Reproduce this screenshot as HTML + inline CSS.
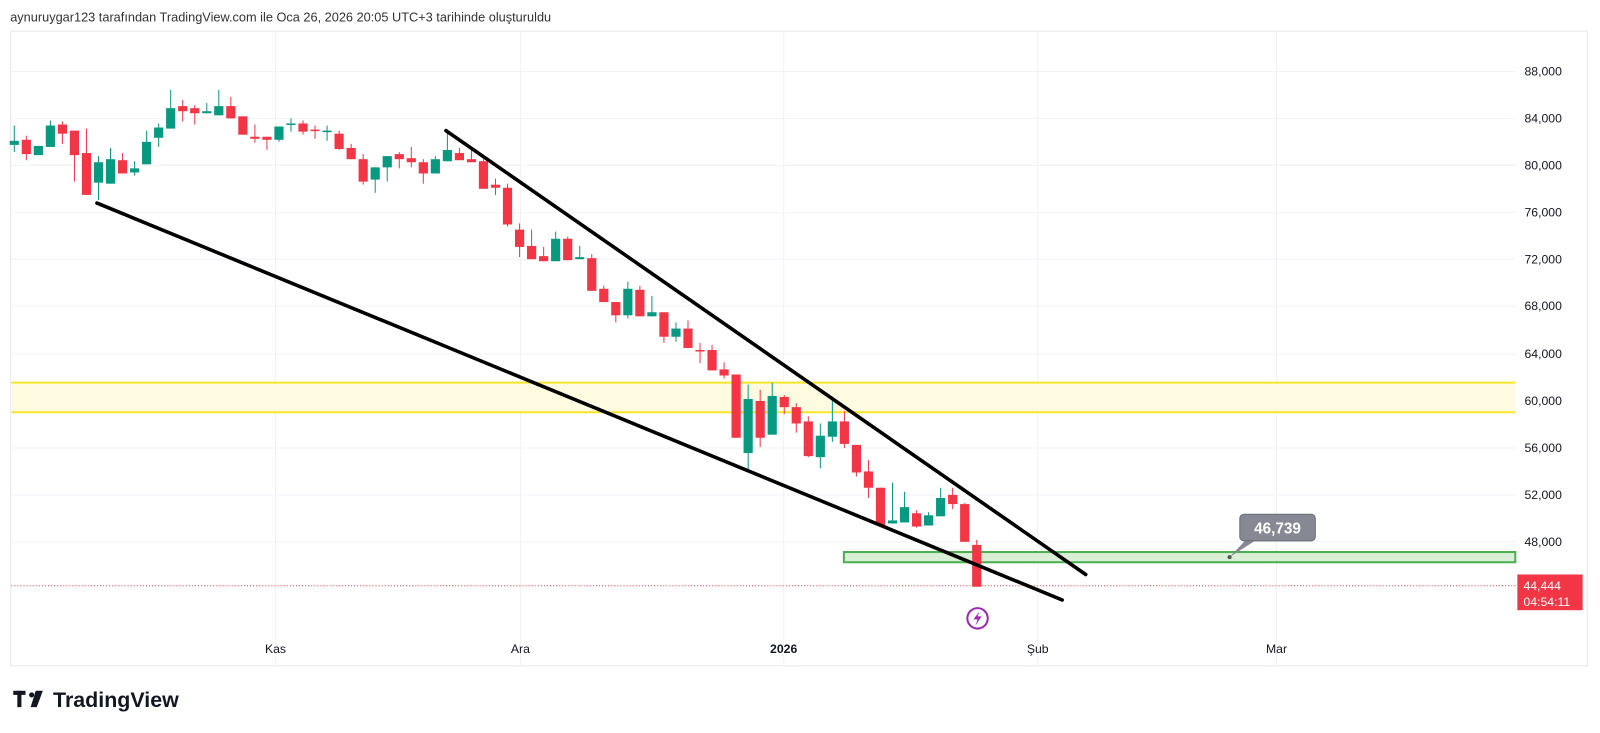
<!DOCTYPE html>
<html><head><meta charset="utf-8"><style>
html,body{margin:0;padding:0;background:#fff;width:1600px;height:733px;overflow:hidden;font-family:"Liberation Sans",sans-serif}
</style></head><body>
<svg id="s" width="1600" height="733" xmlns="http://www.w3.org/2000/svg" style="position:absolute;left:0;top:0">
<g transform="scale(1.0204)">
<text x="10" y="21" font-size="12.5" fill="#333" font-family="Liberation Sans,sans-serif">aynuruygar123 tarafından TradingView.com ile Oca 26, 2026 20:05 UTC+3 tarihinde oluşturuldu</text>
<rect x="10.5" y="30.5" width="1545" height="622" fill="none" stroke="#e6e8ee"/>
<g stroke="#f0f2f6" stroke-width="1">
<line x1="270" y1="31" x2="270" y2="652"/><line x1="510" y1="31" x2="510" y2="652"/><line x1="768" y1="31" x2="768" y2="652"/><line x1="1017" y1="31" x2="1017" y2="652"/><line x1="1251" y1="31" x2="1251" y2="652"/>
<line x1="11" y1="70" x2="1485" y2="70"/><line x1="11" y1="116" x2="1485" y2="116"/><line x1="11" y1="162" x2="1485" y2="162"/><line x1="11" y1="208" x2="1485" y2="208"/><line x1="11" y1="254" x2="1485" y2="254"/><line x1="11" y1="300" x2="1485" y2="300"/><line x1="11" y1="347" x2="1485" y2="347"/><line x1="11" y1="393" x2="1485" y2="393"/><line x1="11" y1="439" x2="1485" y2="439"/><line x1="11" y1="485" x2="1485" y2="485"/><line x1="11" y1="531" x2="1485" y2="531"/>
</g>
<g font-size="12" fill="#131722" font-family="Liberation Sans,sans-serif">
<text x="1494" y="74">88,000</text><text x="1494" y="120">84,000</text><text x="1494" y="166">80,000</text><text x="1494" y="212">76,000</text><text x="1494" y="258">72,000</text><text x="1494" y="304">68,000</text><text x="1494" y="351">64,000</text><text x="1494" y="397">60,000</text><text x="1494" y="443">56,000</text><text x="1494" y="489">52,000</text><text x="1494" y="535">48,000</text>
<text x="270" y="640" text-anchor="middle">Kas</text><text x="510" y="640" text-anchor="middle">Ara</text><text x="768" y="640" text-anchor="middle" font-weight="bold">2026</text><text x="1017" y="640" text-anchor="middle">Şub</text><text x="1251" y="640" text-anchor="middle">Mar</text>
</g>
<rect x="11" y="375" width="1474" height="29" fill="#fffbe0"/>
<line x1="11" y1="375" x2="1485" y2="375" stroke="#f7e52c" stroke-width="2"/>
<line x1="11" y1="404" x2="1485" y2="404" stroke="#f7e52c" stroke-width="2"/>
<rect x="827" y="541" width="658" height="10" fill="#d9f0d6" stroke="#4caf50" stroke-width="2"/>
<line x1="11" y1="574" x2="1485" y2="574" stroke="#f23645" stroke-width="1" stroke-dasharray="1,2"/>
<g id="c"></g>
<line x1="437" y1="128" x2="1064" y2="563" stroke="#000" stroke-width="3.5" stroke-linecap="round"/>
<line x1="95" y1="199" x2="1041" y2="588" stroke="#000" stroke-width="3.5" stroke-linecap="round"/>
<path d="M1205 546 L1222 528 L1233 528 Z" fill="#868993"/>
<rect x="1215" y="504" width="74" height="26" rx="4" fill="#868993" stroke="#6a6d78"/>
<text x="1252" y="523" text-anchor="middle" font-size="15" font-weight="bold" fill="#fff" font-family="Liberation Sans,sans-serif">46,739</text>
<circle cx="1205" cy="546" r="2" fill="#555"/>
<rect x="1487" y="563" width="64" height="35" fill="#f23645"/>
<text x="1493" y="578" font-size="12" fill="#fff" font-family="Liberation Sans,sans-serif">44,444</text>
<text x="1493" y="594" font-size="12" fill="#fff" font-family="Liberation Sans,sans-serif">04:54:11</text>
<circle cx="958" cy="606" r="10" fill="none" stroke="#9c27b0" stroke-width="2"/>
<path d="M960 599 L954 607 L958 607 L956 613 L962 604 L958 604 Z" fill="#9c27b0"/>
<rect x="13" y="677" width="12" height="4" fill="#131722"/><rect x="17" y="677" width="4" height="16" fill="#131722"/><circle cx="31" cy="681" r="2.5" fill="#131722"/><path d="M35 677 L42 677 L36 693 L30 693 Z" fill="#131722"/>
<text x="52" y="693" font-size="21" font-weight="bold" fill="#131722" font-family="Liberation Sans,sans-serif">TradingView</text>
</g>
</svg>
<script>
var d=[
['g',142,146,127,153],['r',141,155,137,161],['g',147,156,147,156],['g',127,148,122,148],['r',126,135,123,145],['r',132,156,132,182],['r',154,195,130,195],['g',163,183,157,200],['g',160,184,149,184],['r',161,174,154,174],
['g',169,173,162,176],['g',143,165,132,165],['g',129,139,125,148],['g',110,130,92,130],['r',108,113,102,123],['r',110,115,107,126],['g',113,115,105,115],['g',108,117,92,117],['r',108,120,99,120],['r',118,136,118,136],
['r',138,140,126,144],['r',138,141,138,151],['g',128,141,128,143],['g',125,126,120,133],['r',125,133,122,136],['r',131,132,127,140],['g',132,133,127,142],['r',135,150,132,151],['r',149,160,145,160],['r',160,182,155,185],
['g',168,180,168,193],['g',157,168,157,182],['r',155,160,153,169],['r',159,163,148,168],['r',163,174,160,184],['g',160,174,157,174],['g',151,162,133,162],['r',154,161,149,161],['r',160,163,151,163],['r',162,189,160,189],
['r',188,191,182,198],['r',191,227,187,229],['r',232,249,226,259],['r',248,261,232,261],['r',258,263,249,263],['g',241,263,234,263],['r',241,262,239,262],['g',259,261,248,261],['r',260,292,256,292],['r',290,303,287,303],
['r',303,316,303,323],['g',290,316,283,319],['r',291,317,287,317],['g',313,317,297,317],['r',313,337,313,343],['g',329,337,323,342],['r',329,348,321,348],['r',350,351,343,363],['r',350,370,345,370],['r',369,375,362,378],
['r',374,436,374,436],
['g',401,454,387,470],['r',403,439,392,448],['g',398,436,385,436],['r',399,409,397,416],['r',409,425,405,434],['r',423,457,418,458],['g',437,458,425,469],['g',423,438,402,443],['r',423,445,413,449],['r',446,473,446,477],
['r',472,488,461,498],['r',488,525,488,525],['g',520,523,483,523],['g',507,522,492,522],['r',513,526,510,527],['g',515,525,512,525],['g',498,516,488,516],['r',495,504,488,509],['r',504,541,503,541],['r',544,585,539,585]];
var s='';
for(var i=0;i<d.length;i++){var c=d[i];var sh=i<40?-4:(i<61?-7:-10);var x=14+i*11.79;var col=c[0]=='g'?'#089981':'#f23645';
var t=c[1]+sh,b=c[2]+sh,wt=c[3]+sh,wb=c[4]+sh;if(b-t<1.5)b=t+1.5;
s+='<line x1="'+x+'" y1="'+wt+'" x2="'+x+'" y2="'+wb+'" stroke="'+col+'" stroke-width="1"/>';
s+='<rect x="'+(x-4.5)+'" y="'+t+'" width="9" height="'+(b-t)+'" fill="'+col+'"/>';}
document.getElementById('c').innerHTML=s;
</script>
</body></html>
